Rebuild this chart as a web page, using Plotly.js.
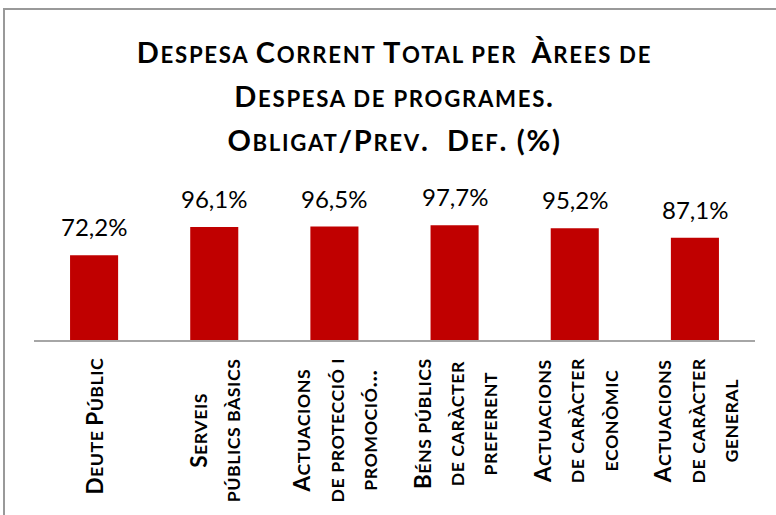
<!DOCTYPE html>
<html>
<head>
<meta charset="utf-8">
<script src="https://cdn.plot.ly/plotly-3.0.1.min.js"></script>
<style>
  html, body { margin: 0; padding: 0; background: #fff; }
  #wrap { position: relative; width: 776px; height: 515px; overflow: hidden; }
  #chart { width: 776px; height: 515px; }
  #frame { position: absolute; left: 3px; top: 8px; width: 800px; height: 600px;
           border-left: 2px solid #999; border-top: 2px solid #999; pointer-events: none; }
</style>
</head>
<body>
<div id="wrap">
  <div id="chart"></div>
  <div id="frame"></div>
</div>
<script>
// ---- data ----
const categories = [
  "Deute Públic",
  "Serveis públics bàsics",
  "Actuacions de protecció i promoció...",
  "Béns públics de caràcter preferent",
  "Actuacions de caràcter econòmic",
  "Actuacions de caràcter general"
];
const categoryLines = [
  ["Deute Públic"],
  ["Serveis", "públics bàsics"],
  ["Actuacions", "de protecció i", "promoció…"],
  ["Béns públics", "de caràcter", "preferent"],
  ["Actuacions", "de caràcter", "econòmic"],
  ["Actuacions", "de caràcter", "general"]
];
const values = [72.2, 96.1, 96.5, 97.7, 95.2, 87.1];
const titleLines = ["Despesa Corrent Total per \u00a0Àrees de", "Despesa de programes.", "Obligat/Prev. \u00a0Def. (%)"];

// ---- helpers ----
const FONT = "Lato, 'Open Sans', sans-serif";
const fmt = v => v.toFixed(1).replace('.', ',') + '%';

// small caps: lowercase letters become smaller capitals
function smallCaps(str, big, small, spacing) {
  let out = '', run = '', runSmall = null;
  const ls = spacing ? ';letter-spacing:' + spacing + 'px' : '';
  const flush = () => {
    if (run) out += '<span style="font-size:' + (runSmall ? small : big) + 'px' + ls + '">' + run + '</span>';
    run = '';
  };
  for (const ch of str) {
    const isLower = ch !== ch.toUpperCase();
    const isSpace = /\s/.test(ch);
    const s = isSpace ? (runSmall === null ? false : runSmall) : isLower;
    if (runSmall !== null && s !== runSmall) flush();
    runSmall = s;
    run += ch.toUpperCase();
  }
  flush();
  return out;
}

// ---- chart ----
const trace = {
  type: 'bar',
  x: categories,
  y: values,
  width: 0.4,
  marker: { color: '#C00000', line: { width: 0 } },
  hoverinfo: 'skip'
};

const annotations = [];
categories.forEach((c, i) => {
  annotations.push({
    x: c, xref: 'x', y: values[i], yref: 'y',
    text: fmt(values[i]),
    showarrow: false, yanchor: 'bottom', yshift: 12,
    font: { family: FONT, size: 24, color: '#000' }
  });
  annotations.push({
    x: c, xref: 'x', y: 0, yref: 'paper',
    text: categoryLines[i].map(s => smallCaps(s, 22.5, 17.8, 0.5)).join('<br>'),
    showarrow: false, textangle: -90, yanchor: 'top', yshift: -16, align: 'center',
    font: { family: FONT, size: 25.5, color: '#000', weight: 700 }
  });
});

const layout = {
  width: 776, height: 515,
  paper_bgcolor: '#fff', plot_bgcolor: '#fff',
  margin: { l: 34, r: 21, t: 199, b: 175 },
  showlegend: false,
  title: {
    text: titleLines.map(s => smallCaps(s, 29, 22.2, 1.7)).join('<br>'),
    font: { family: FONT, size: 34, color: '#000', weight: 700 },
    x: 0.5, xanchor: 'center', xref: 'paper',
    y: 1 - 63 / 515, yanchor: 'top', yref: 'container'
  },
  xaxis: {
    type: 'category', showticklabels: false, ticks: '',
    showline: true, linecolor: '#a6a6a6', linewidth: 1.5,
    showgrid: false, zeroline: false, fixedrange: true
  },
  yaxis: {
    range: [0, 120], visible: false, showgrid: false, zeroline: false, fixedrange: true
  },
  annotations: annotations,
  bargap: 0.6
};

Plotly.newPlot('chart', [trace], layout, { displayModeBar: false, staticPlot: true });
</script>
</body>
</html>
